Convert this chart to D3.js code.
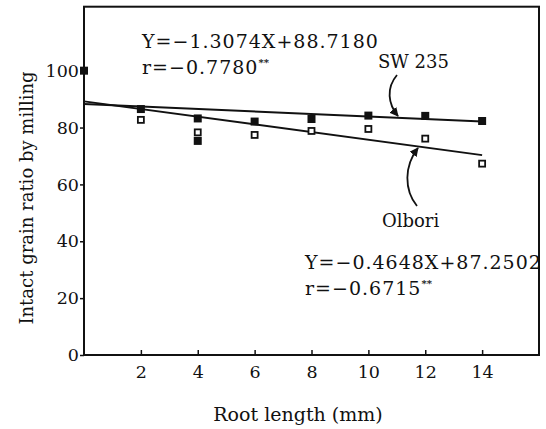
<!DOCTYPE html>
<html><head><meta charset="utf-8">
<script src="https://cdn.jsdelivr.net/npm/d3@7"></script>
<style>
html,body{margin:0;padding:0;background:#fff;}
svg{display:block;}
text{font-family:"DejaVu Serif",serif;fill:#111;}
</style></head>
<body>
<svg id="chart" width="546" height="429"></svg>
<script>
// Data
const xTicks = [2, 4, 6, 8, 10, 12, 14];
const yTicks = [0, 20, 40, 60, 80, 100];
const swX = [0, 2, 4, 4, 6, 8, 10, 12, 14];
const swY = [100, 86.5, 83.2, 75.3, 82.1, 83.0, 84.2, 84.1, 82.3];
const olX = [2, 4, 6, 8, 10, 12, 14];
const olY = [82.7, 78.3, 77.4, 78.8, 79.5, 76.1, 67.3];
const swLineX = [0, 14];
const swLineY = [88.3, 82.1];
const olLineX = [0, 14];
const olLineY = [89.2, 70.3];
const eqTop = ["Y=−1.3074X+88.7180", "r=−0.7780"];
const eqBottom = ["Y=−0.4648X+87.2502", "r=−0.6715"];
const seriesNames = ["SW 235", "Olbori"];
const xTitle = "Root length (mm)";
const yTitle = "Intact grain ratio by milling";

const svg = d3.select("#chart");
const x = d3.scaleLinear().domain([0, 16]).range([84, 539]);
const y = d3.scaleLinear().domain([0, 122.5]).range([355, 6.7]);

// frame
svg.append("rect").attr("x", x(0)).attr("y", y(122.5))
  .attr("width", x(16) - x(0)).attr("height", y(0) - y(122.5))
  .attr("fill", "none").attr("stroke", "#111").attr("stroke-width", 2);

// y axis
const ya = svg.append("g").attr("transform", `translate(${x(0)},0)`)
  .call(d3.axisLeft(y).tickValues(yTicks).tickSize(4).tickPadding(1).tickFormat(d3.format("d")));
ya.select(".domain").remove();
ya.selectAll("line").attr("stroke", "#111").attr("stroke-width", 1.5);
ya.selectAll("text").attr("font-size", 17.5).attr("font-family", "DejaVu Serif").attr("fill", "#111");

// x axis
const xa = svg.append("g").attr("transform", `translate(0,${y(0)})`)
  .call(d3.axisBottom(x).tickValues(xTicks).tickSizeInner(-5).tickSizeOuter(0).tickPadding(11));
xa.select(".domain").remove();
xa.selectAll("line").attr("stroke", "#111").attr("stroke-width", 1.5);
xa.selectAll("text").attr("font-size", 17.5).attr("font-family", "DejaVu Serif").attr("fill", "#111");

// regression lines
const line = d3.line().x(d => x(d[0])).y(d => y(d[1]));
svg.append("path").datum(swLineX.map((v, i) => [v, swLineY[i]]))
  .attr("d", line).attr("fill", "none").attr("stroke", "#111").attr("stroke-width", 2);
svg.append("path").datum(olLineX.map((v, i) => [v, olLineY[i]]))
  .attr("d", line).attr("fill", "none").attr("stroke", "#111").attr("stroke-width", 2);

// markers
const s = 8;
svg.selectAll(".sw").data(swX.map((v, i) => [v, swY[i]])).enter().append("rect")
  .attr("x", d => x(d[0]) - s / 2).attr("y", d => y(d[1]) - s / 2)
  .attr("width", s).attr("height", s).attr("fill", "#111");
svg.selectAll(".ol").data(olX.map((v, i) => [v, olY[i]])).enter().append("rect")
  .attr("x", d => x(d[0]) - 3).attr("y", d => y(d[1]) - 3)
  .attr("width", 6).attr("height", 6).attr("fill", "#fff")
  .attr("stroke", "#111").attr("stroke-width", 1.8);

// arrowheads
const defs = svg.append("defs");
defs.append("marker").attr("id", "ah").attr("viewBox", "0 0 10 10")
  .attr("refX", 9).attr("refY", 5).attr("markerWidth", 9).attr("markerHeight", 9)
  .attr("markerUnits", "userSpaceOnUse").attr("orient", "auto")
  .append("path").attr("d", "M0,0 L10,5 L0,10 Z").attr("fill", "#111");

svg.append("path").attr("d", "M397,75 C386,88 388,104 398,116")
  .attr("fill", "none").attr("stroke", "#111").attr("stroke-width", 1.8).attr("marker-end", "url(#ah)");
svg.append("path").attr("d", "M417,206 C404,190 404,166 418,148")
  .attr("fill", "none").attr("stroke", "#111").attr("stroke-width", 1.8).attr("marker-end", "url(#ah)");

// labels
svg.append("text").attr("x", 378).attr("y", 68).attr("font-size", 18).text(seriesNames[0]);
svg.append("text").attr("x", 382).attr("y", 227).attr("font-size", 18).text(seriesNames[1]);

function eq(lines, x0, y0) {
  svg.append("text").attr("x", x0).attr("y", y0).attr("font-size", 19)
    .attr("letter-spacing", 1).text(lines[0]);
  const t = svg.append("text").attr("x", x0).attr("y", y0 + 26).attr("font-size", 19)
    .attr("letter-spacing", 1);
  t.append("tspan").text(lines[1]);
  t.append("tspan").attr("font-size", 10).attr("dy", -8).attr("font-weight", "bold")
    .attr("letter-spacing", 0).text("**");
}
eq(eqTop, 142, 48);
eq(eqBottom, 305, 269);

// axis titles
svg.append("text").attr("x", 298).attr("y", 421).attr("text-anchor", "middle")
  .attr("font-size", 19).text(xTitle);
svg.append("text").attr("transform", "translate(33,198) rotate(-90)")
  .attr("text-anchor", "middle").attr("font-size", 18).text(yTitle);
</script>
</body></html>
